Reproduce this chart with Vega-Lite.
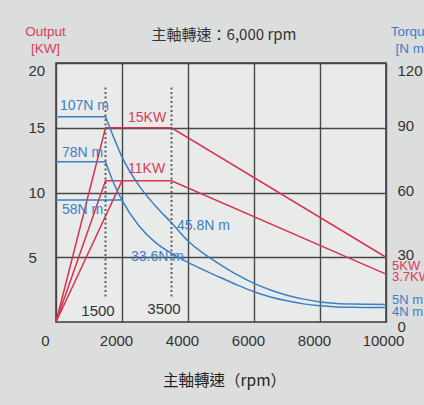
{
  "$schema": "https://vega.github.io/schema/vega-lite/v6.json",
  "width": 330,
  "height": 259,
  "autosize": {"type": "none"},
  "padding": {"left": 56, "top": 63, "right": 38, "bottom": 83},
  "background": "#dcdddd",
  "title": {
    "text": "主軸轉速：6,000 rpm",
    "font": "Noto Sans CJK TC",
    "fontSize": 15,
    "fontWeight": "normal",
    "color": "#333333",
    "anchor": "middle",
    "frame": "group",
    "dx": 3,
    "dy": 23
  },
  "config": {
    "view": {"fill": "#e9eaea", "stroke": "#3a3a3a", "strokeWidth": 1.5},
    "axis": {
      "labelFont": "Liberation Sans",
      "labelFontSize": 15,
      "labelColor": "#333333",
      "ticks": false,
      "domain": false,
      "gridColor": "#474747",
      "gridWidth": 1.4,
      "gridOpacity": 1
    }
  },
  "resolve": {"scale": {"y": "independent"}},
  "encoding": {
    "x": {
      "field": "rpm",
      "type": "quantitative",
      "scale": {"domain": [0, 10000], "nice": false},
      "axis": {
        "values": [0, 2000, 4000, 6000, 8000, 10000],
        "format": "d",
        "grid": true,
        "labelFlush": false,
        "labelPadding": 11,
        "labelOffset": {"condition": [{"test": "datum.value == 0", "value": -11}, {"test": "datum.value == 10000", "value": -3}], "value": -6},
        "title": "主軸轉速（rpm）",
        "titleFont": "Noto Sans CJK TC",
        "titleFontSize": 15.5,
        "titleFontWeight": "normal",
        "titleColor": "#222222",
        "titleX": 168,
        "titleY": 58,
        "titleAlign": "center",
        "titleBaseline": "middle"
      }
    }
  },
  "layer": [
    {
      "data": {"values": [
        {"rpm": 0, "kw": 0, "s": "15kW"},
        {"rpm": 1500, "kw": 15, "s": "15kW"},
        {"rpm": 3500, "kw": 15, "s": "15kW"},
        {"rpm": 10000, "kw": 5, "s": "15kW"},
        {"rpm": 0, "kw": 0, "s": "11kW"},
        {"rpm": 1500, "kw": 10.9, "s": "11kW"},
        {"rpm": 3500, "kw": 10.9, "s": "11kW"},
        {"rpm": 10000, "kw": 3.7, "s": "11kW"},
        {"rpm": 0, "kw": 0, "s": "11kW-b"},
        {"rpm": 2000, "kw": 10.9, "s": "11kW-b"}
      ]},
      "mark": {"type": "line", "color": "#d7354e", "strokeWidth": 1.5},
      "encoding": {
        "detail": {"field": "s"},
        "y": {
          "field": "kw",
          "type": "quantitative",
          "scale": {"domain": [0, 20], "nice": false},
          "axis": {
            "orient": "left",
            "values": [5, 10, 15, 20],
            "grid": true,
            "labelAlign": "left",
            "labelPadding": 28,
            "labelBaseline": {"condition": {"test": "datum.value == 20", "value": "top"}, "value": "middle"},
            "title": ["Output", "[KW]"],
            "titleColor": "#d6405a",
            "titleFont": "Liberation Sans",
            "titleFontSize": 13.5,
            "titleFontWeight": "normal",
            "titleAngle": 0,
            "titleAlign": "center",
            "titleBaseline": "alphabetic",
            "titleX": -11,
            "titleY": -28,
            "titleLineHeight": 17
          }
        }
      }
    },
    {
      "data": {"values": [
        {"rpm": 0, "nm": 95.1, "s": "a-flat"},
        {"rpm": 1500, "nm": 95.1, "s": "a-flat"},
        {"rpm": 1500, "nm": 95.1, "s": "a"},
        {"rpm": 1750, "nm": 85.5, "s": "a"},
        {"rpm": 2000, "nm": 76.5, "s": "a"},
        {"rpm": 2500, "nm": 63.5, "s": "a"},
        {"rpm": 3000, "nm": 54, "s": "a"},
        {"rpm": 3500, "nm": 46, "s": "a"},
        {"rpm": 4000, "nm": 37.5, "s": "a"},
        {"rpm": 4500, "nm": 31.4, "s": "a"},
        {"rpm": 5000, "nm": 26.4, "s": "a"},
        {"rpm": 5500, "nm": 21.8, "s": "a"},
        {"rpm": 6000, "nm": 17.9, "s": "a"},
        {"rpm": 6500, "nm": 14.8, "s": "a"},
        {"rpm": 7000, "nm": 12.4, "s": "a"},
        {"rpm": 7500, "nm": 10.6, "s": "a"},
        {"rpm": 8000, "nm": 9.3, "s": "a"},
        {"rpm": 8500, "nm": 8.6, "s": "a"},
        {"rpm": 9000, "nm": 8.3, "s": "a"},
        {"rpm": 9500, "nm": 8.2, "s": "a"},
        {"rpm": 10000, "nm": 8.1, "s": "a"},
        {"rpm": 0, "nm": 74.3, "s": "b-flat"},
        {"rpm": 1500, "nm": 74.3, "s": "b-flat"},
        {"rpm": 1500, "nm": 74.3, "s": "b"},
        {"rpm": 1750, "nm": 64.3, "s": "b"},
        {"rpm": 2000, "nm": 56.5, "s": "b"},
        {"rpm": 2500, "nm": 44.8, "s": "b"},
        {"rpm": 3000, "nm": 37, "s": "b"},
        {"rpm": 3500, "nm": 31.8, "s": "b"},
        {"rpm": 4000, "nm": 27.6, "s": "b"},
        {"rpm": 4500, "nm": 23.9, "s": "b"},
        {"rpm": 5000, "nm": 20.5, "s": "b"},
        {"rpm": 5500, "nm": 17.1, "s": "b"},
        {"rpm": 6000, "nm": 14, "s": "b"},
        {"rpm": 6500, "nm": 11.6, "s": "b"},
        {"rpm": 7000, "nm": 9.8, "s": "b"},
        {"rpm": 7500, "nm": 8.4, "s": "b"},
        {"rpm": 8000, "nm": 7.5, "s": "b"},
        {"rpm": 8500, "nm": 7, "s": "b"},
        {"rpm": 9000, "nm": 6.8, "s": "b"},
        {"rpm": 9500, "nm": 6.7, "s": "b"},
        {"rpm": 10000, "nm": 6.7, "s": "b"},
        {"rpm": 0, "nm": 56.5, "s": "c-flat"},
        {"rpm": 2000, "nm": 56.5, "s": "c-flat"}
      ]},
      "mark": {"type": "line", "color": "#3b7fc5", "strokeWidth": 1.5, "interpolate": "monotone"},
      "encoding": {
        "detail": {"field": "s"},
        "y": {
          "field": "nm",
          "type": "quantitative",
          "scale": {"domain": [0, 120], "nice": false},
          "axis": {
            "orient": "right",
            "values": [0, 30, 60, 90, 120],
            "grid": false,
            "labelAlign": "left",
            "labelPadding": 11,
            "labelOffset": {"condition": [{"test": "datum.value == 120", "value": 0}, {"test": "datum.value == 0", "value": -3}], "value": -2.5},
            "labelBaseline": {"condition": {"test": "datum.value == 120 || datum.value == 0", "value": "top"}, "value": "middle"},
            "title": ["Torque", "[N m]"],
            "titleColor": "#3b80c6",
            "titleFont": "Liberation Sans",
            "titleFontSize": 13.5,
            "titleFontWeight": "normal",
            "titleAngle": 0,
            "titleAlign": "center",
            "titleBaseline": "alphabetic",
            "titleX": 25,
            "titleY": -28,
            "titleLineHeight": 17
          }
        }
      }
    },
    {
      "data": {"values": [{"rpm": 1500}, {"rpm": 3500}]},
      "mark": {"type": "rule", "color": "#5e5e5e", "strokeWidth": 2, "strokeDash": [2, 2.5]},
      "encoding": {
        "y": {"datum": 18.1, "type": "quantitative", "scale": {"domain": [0, 20], "nice": false}, "axis": null},
        "y2": {"datum": 1.8}
      }
    },
    {
      "data": {"values": [
        {"rpm": 2182, "kw": 15.75, "label": "15KW", "size": 14},
        {"rpm": 2182, "kw": 11.8, "label": "11KW", "size": 14},
        {"rpm": 10182, "kw": 4.3, "label": "5KW", "size": 13},
        {"rpm": 10182, "kw": 3.45, "label": "3.7KW", "size": 13}
      ]},
      "mark": {"type": "text", "align": "left", "baseline": "middle", "font": "Liberation Sans", "color": "#d6405a"},
      "encoding": {
        "text": {"field": "label"},
        "size": {"field": "size", "type": "quantitative", "scale": null, "legend": null},
        "y": {"field": "kw", "type": "quantitative", "scale": {"domain": [0, 20], "nice": false}, "axis": null}
      }
    },
    {
      "data": {"values": [
        {"rpm": 121, "nm": 100.1, "label": "107N m", "size": 14},
        {"rpm": 182, "nm": 78.5, "label": "78N m", "size": 14},
        {"rpm": 182, "nm": 51.9, "label": "58N m", "size": 14},
        {"rpm": 3667, "nm": 44.6, "label": "45.8N m", "size": 14},
        {"rpm": 2273, "nm": 30.1, "label": "33.6N m", "size": 14},
        {"rpm": 10182, "nm": 10.2, "label": "5N m", "size": 13},
        {"rpm": 10182, "nm": 4.6, "label": "4N m", "size": 13}
      ]},
      "mark": {"type": "text", "align": "left", "baseline": "middle", "font": "Liberation Sans", "color": "#3b80c6"},
      "encoding": {
        "text": {"field": "label"},
        "size": {"field": "size", "type": "quantitative", "scale": null, "legend": null},
        "y": {"field": "nm", "type": "quantitative", "scale": {"domain": [0, 120], "nice": false}, "axis": null}
      }
    },
    {
      "data": {"values": [
        {"rpm": 1500, "kw": 0.85, "label": "1500"},
        {"rpm": 3500, "kw": 1.0, "label": "3500"}
      ]},
      "mark": {"type": "text", "align": "center", "baseline": "middle", "dx": -7.5, "font": "Liberation Sans", "fontSize": 15, "color": "#333333"},
      "encoding": {
        "text": {"field": "label"},
        "y": {"field": "kw", "type": "quantitative", "scale": {"domain": [0, 20], "nice": false}, "axis": null}
      }
    }
  ]
}
